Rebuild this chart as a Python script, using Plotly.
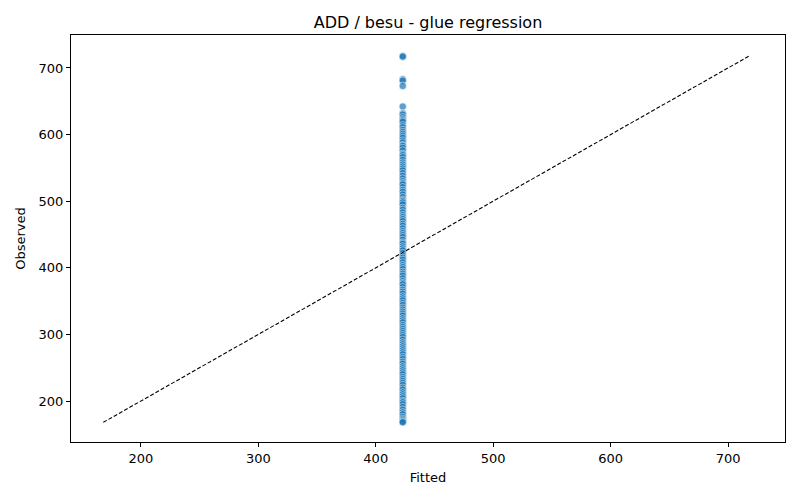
"""ADD / besu - glue regression: observed vs fitted"""

import plotly.graph_objects as go

fitted_value = 423
observed = [718, 717, 683, 681, 673, 642, 632, 630, 626, 623, 621, 619, 614, 611,
            607, 604, 601, 598, 595, 591, 588, 584, 583, 580, 576, 571, 569, 566,
            562, 558, 555, 552, 549, 546, 542, 538, 534, 530, 527, 525, 521, 517,
            514, 510, 506, 502, 500, 498, 495, 490, 487, 483, 479, 476, 473, 470,
            466, 463, 459, 455, 452, 449, 446, 442, 438, 436, 432, 429, 426, 422,
            418, 415, 412, 408, 404, 401, 398, 394, 391, 388, 384, 380, 377, 375,
            371, 367, 364, 361, 357, 354, 351, 347, 344, 340, 337, 334, 331, 328,
            324, 321, 318, 314, 311, 308, 305, 302, 299, 296, 292, 288, 285, 282,
            279, 276, 273, 270, 266, 263, 259, 256, 252, 249, 246, 243, 240, 236,
            233, 230, 227, 224, 220, 217, 213, 210, 207, 204, 200, 198, 195, 191,
            187, 183, 180, 176, 173, 171, 169, 168]
fitted = [fitted_value] * len(observed)

lo, hi = min(observed), max(observed)

FONT = "DejaVu Sans"

fig = go.Figure()
fig.add_trace(go.Scatter(
    x=fitted, y=observed, mode="markers",
    marker=dict(color="#1f77b4", size=7.5, opacity=0.7,
                line=dict(color="white", width=0.7)),
    showlegend=False,
))
fig.add_trace(go.Scatter(
    x=[lo, hi], y=[lo, hi], mode="lines",
    line=dict(color="black", width=1.1, dash="4px,2px"),
    showlegend=False,
))

axis = dict(showline=True, mirror=True, linecolor="black", linewidth=1,
            ticks="outside", ticklen=4, tickcolor="black", showgrid=False,
            zeroline=False, tickfont=dict(size=13, color="black"))

fig.update_layout(
    width=800, height=500,
    paper_bgcolor="white", plot_bgcolor="white",
    font=dict(family=FONT, color="black"),
    margin=dict(l=63, r=23, t=27, b=66),
    title=dict(text="ADD / besu - glue regression", x=0.5, xanchor="center",
               xref="paper", yref="container",
               y=0.972, yanchor="middle", font=dict(size=16)),
    xaxis=dict(axis, range=[140.5, 748.5], dtick=100,
               title=dict(text="Fitted", font=dict(size=13), standoff=8)),
    yaxis=dict(axis, range=[138.5, 749.5], dtick=100,
               title=dict(text="Observed", font=dict(size=13), standoff=10)),
)

fig.write_html("out.html")
